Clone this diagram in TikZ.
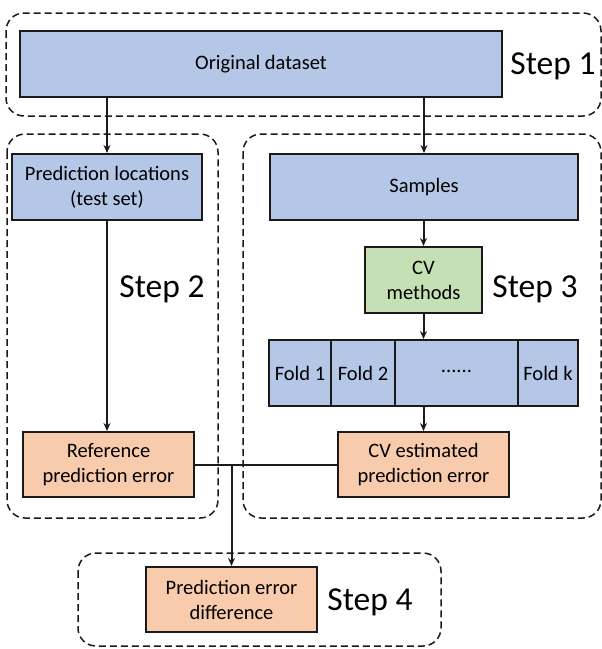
\documentclass[tikz,border=0pt]{standalone}
\usepackage{fontspec}
\setmainfont{Carlito}
\usetikzlibrary{arrows.meta}
\definecolor{blueF}{HTML}{B4C7E7}
\definecolor{greenF}{HTML}{C5E0B4}
\definecolor{orangeF}{HTML}{F8CBAD}
\definecolor{edgeC}{HTML}{1A1A1A}
\begin{document}
\begin{tikzpicture}[x=1pt,y=-1pt,
  box/.style={draw=edgeC, line width=2pt, inner sep=0pt, align=center, font=\fontsize{20.5}{25}\selectfont},
  bluebox/.style={box, fill=blueF},
  greenbox/.style={box, fill=greenF},
  orangebox/.style={box, fill=orangeF},
  grp/.style={draw=edgeC, line width=1.5pt, rounded corners=18pt, dash pattern=on 7pt off 4pt},
  steplbl/.style={font=\fontsize{33.5}{38}\selectfont, inner sep=0pt},
  arr/.style={draw=edgeC, line width=2pt, -{Stealth[length=8pt,width=7pt]}},
  link/.style={draw=edgeC, line width=2pt}]
\useasboundingbox (0,0) rectangle (602,649);

% dashed groups
\draw[grp] (6,13) rectangle (601,116);
\draw[grp] (7,134) rectangle (218,518);
\draw[grp] (243,134) rectangle (601,518);
\draw[grp] (78,553) rectangle (441,646);

% nodes
\node[bluebox, minimum width=482pt, minimum height=66pt] (orig) at (261,64) {Original dataset};
\node[bluebox, minimum width=190pt, minimum height=66pt] (pl) at (107,187) {Prediction locations\\(test set)};
\node[bluebox, minimum width=308pt, minimum height=66pt] (samp) at (424,187) {Samples};
\node[greenbox, minimum width=117pt, minimum height=66pt] (cvm) at (423.5,280) {CV\\methods};
\node[bluebox, minimum width=62pt, minimum height=66pt] (f1) at (300,373) {Fold 1};
\node[bluebox, minimum width=64pt, minimum height=66pt] (f2) at (363,373) {Fold 2};
\node[bluebox, minimum width=123pt, minimum height=66pt] (dots) at (456.5,373) {\raisebox{0.35ex}{......}};
\node[bluebox, minimum width=60pt, minimum height=66pt] (fk) at (548,373) {Fold k};
\node[orangebox, minimum width=171pt, minimum height=65pt] (ref) at (108.5,464.5) {Reference\\prediction error};
\node[orangebox, minimum width=171pt, minimum height=65pt] (cve) at (423.5,464.5) {CV estimated\\prediction error};
\node[orangebox, minimum width=171pt, minimum height=65pt] (ped) at (231.5,599.5) {Prediction error\\difference};

% step labels
\node[steplbl] (s1) at (553,66) {Step 1};
\node[steplbl] (s2) at (162,289) {Step 2};
\node[steplbl] (s3) at (535,289) {Step 3};
\node[steplbl] (s4) at (370,602) {Step 4};

% connectors
\draw[arr] (orig.south -| pl.north) -- (pl.north);
\draw[arr] (orig.south -| samp.north) -- (samp.north);
\draw[arr] (samp.south -| cvm.north) -- (cvm.north);
\draw[arr] (cvm.south) -- (cvm.south |- dots.north);
\draw[arr] (cve.north |- dots.south) -- (cve.north);
\draw[arr] (pl.south) -- (pl.south |- ref.north);
\coordinate (j) at (ped.north |- ref.east);
\draw[link] (ref.east) -- (cve.west);
\draw[arr] (j) -- (ped.north);
\end{tikzpicture}
\end{document}
